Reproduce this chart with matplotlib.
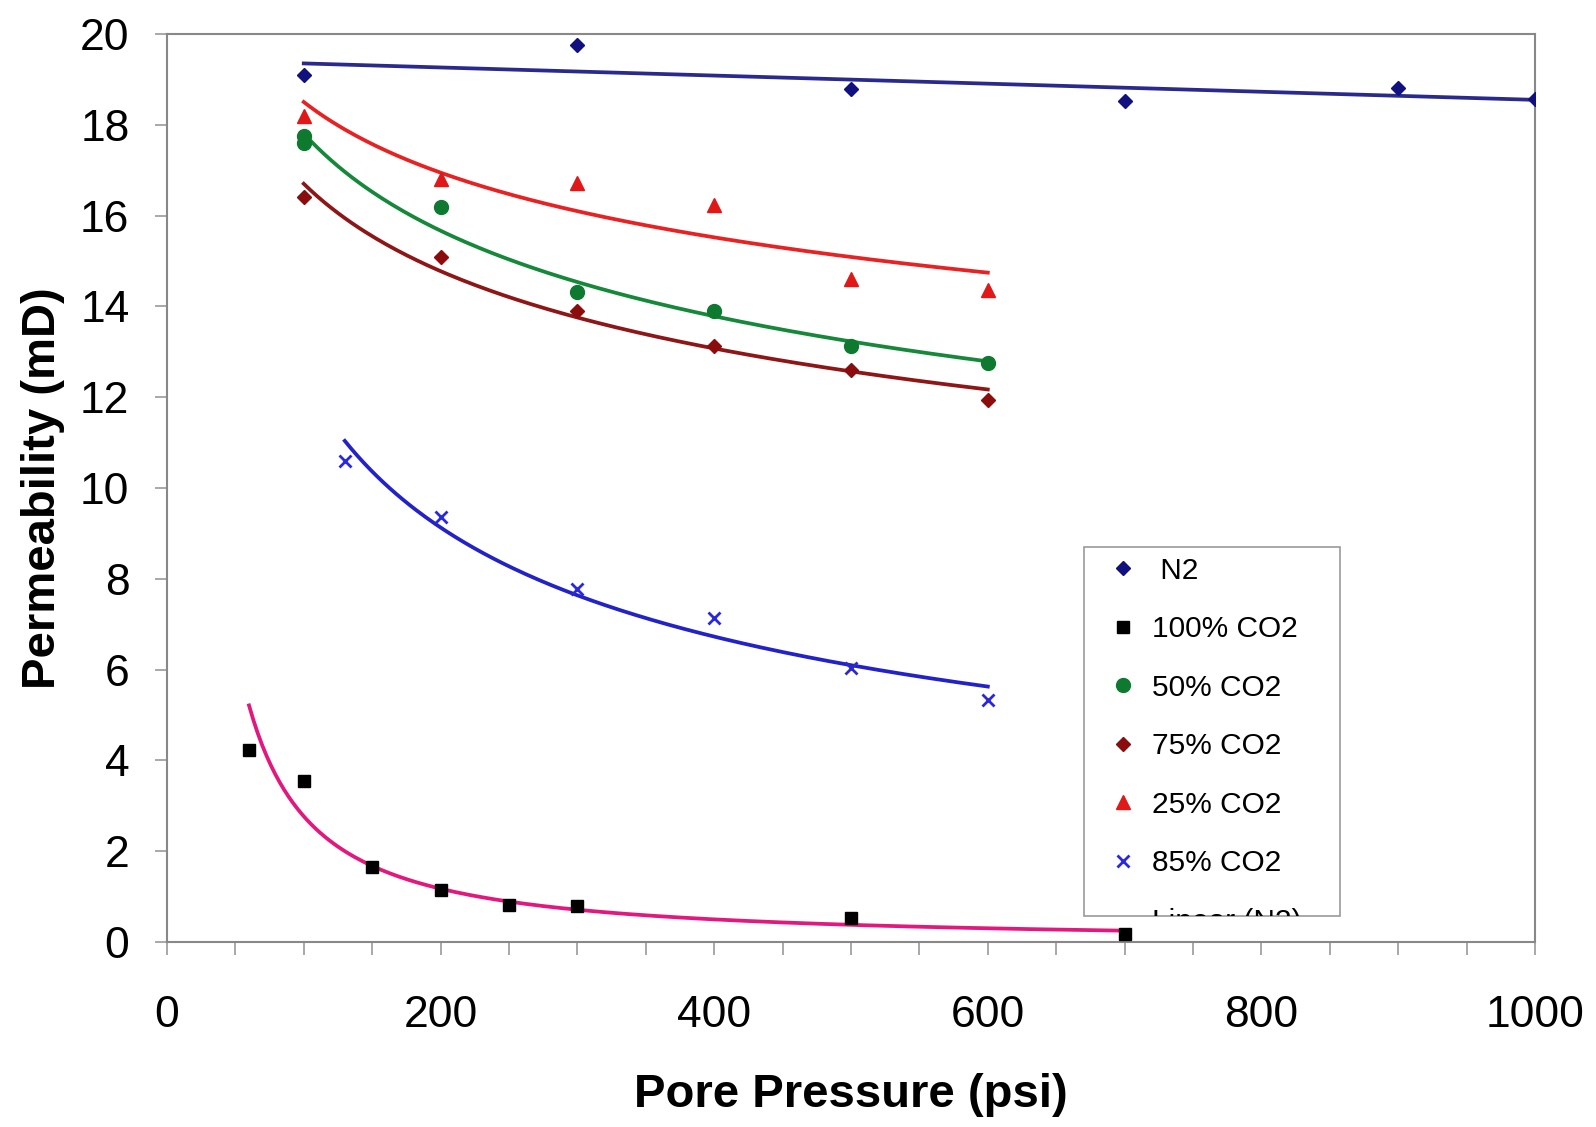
import numpy as np
from matplotlib import pyplot as plt
from matplotlib.patches import Rectangle
from matplotlib.lines import Line2D
from matplotlib.transforms import Bbox, TransformedBbox
from matplotlib.ticker import MultipleLocator

plt.rcParams["font.family"] = ["Liberation Sans", "DejaVu Sans"]

# data (pore pressure psi, permeability mD)
n2_x = [100, 300, 500, 700, 900, 1000]
n2_y = [19.1, 19.75, 18.79, 18.52, 18.81, 18.56]

co2_100_x = [60, 100, 150, 200, 250, 300, 500, 700]
co2_100_y = [4.22, 3.55, 1.64, 1.14, 0.81, 0.79, 0.52, 0.18]

co2_50_x = [100, 100, 200, 300, 400, 500, 600]
co2_50_y = [17.6, 17.75, 16.18, 14.32, 13.9, 13.13, 12.75]

co2_75_x = [100, 200, 300, 400, 500, 600]
co2_75_y = [16.41, 15.08, 13.9, 13.13, 12.59, 11.94]

co2_25_x = [100, 200, 300, 400, 500, 600]
co2_25_y = [18.2, 16.81, 16.72, 16.23, 14.61, 14.37]

co2_85_x = [130, 200, 300, 400, 500, 600]
co2_85_y = [10.6, 9.36, 7.77, 7.14, 6.04, 5.34]


def power_fit(x, y):
    # excel style power trendline y = a * x^b
    x = np.asarray(x, float)
    y = np.asarray(y, float)
    b, lna = np.polyfit(np.log(x), np.log(y), 1)
    xs = np.linspace(x.min(), x.max(), 200)
    return xs, np.exp(lna) * xs ** b


fig = plt.figure(figsize=(15.96, 11.27), dpi=100)
ax = fig.add_axes([0.1046, 0.1642, 0.8572, 0.8056])

LW = 2.7

# trend lines
k, c = np.polyfit(n2_x, n2_y, 1)
xs = np.linspace(min(n2_x), max(n2_x), 2)
ax.plot(xs, k * xs + c, color="#2a2a8e", lw=LW, zorder=2)

fits = [
    (co2_100_x, co2_100_y, "#e2187f"),
    (co2_50_x, co2_50_y, "#15883a"),
    (co2_75_x, co2_75_y, "#8e1616"),
    (co2_25_x, co2_25_y, "#e82222"),
    (co2_85_x, co2_85_y, "#2222c8"),
]
for x, y, col in fits:
    fx, fy = power_fit(x, y)
    ax.plot(fx, fy, color=col, lw=LW, zorder=2)

# points
ax.plot(n2_x, n2_y, ls="none", marker="D", ms=7.5, color="#10107e",
        label=" N2", zorder=3)
ax.plot(co2_100_x, co2_100_y, ls="none", marker="s", ms=9, color="black",
        label="100% CO2", zorder=3)
ax.plot(co2_50_x, co2_50_y, ls="none", marker="o", ms=10, color="#0e7a30",
        label="50% CO2", zorder=3)
ax.plot(co2_75_x, co2_75_y, ls="none", marker="D", ms=7, color="#8a0c0c",
        label="75% CO2", zorder=3)
ax.plot(co2_25_x, co2_25_y, ls="none", marker="^", ms=10, color="#e01818",
        label="25% CO2", zorder=3)
ax.plot(co2_85_x, co2_85_y, ls="none", marker="x", ms=8, mew=2,
        color="#2a2ad0", label="85% CO2", zorder=3)

ax.set_xlim(0, 1000)
ax.set_ylim(0, 20)
ax.xaxis.set_major_locator(MultipleLocator(200))
ax.xaxis.set_minor_locator(MultipleLocator(50))
ax.yaxis.set_major_locator(MultipleLocator(2))

for s in ax.spines.values():
    s.set_color("#888888")
    s.set_linewidth(1.5)
ax.tick_params(axis="both", which="both", direction="out", length=9,
               width=1.2, color="#999999", labelsize=32)
ax.tick_params(axis="x", which="major", pad=29)
ax.tick_params(axis="y", which="major", pad=18)

ax.set_xlabel("Pore Pressure (psi)", fontsize=34, fontweight="bold", labelpad=27)
ax.set_ylabel("Permeability (mD)", fontsize=34, fontweight="bold", labelpad=11)

# legend box (too short in the original, last entry is cut off)
handles, labels = ax.get_legend_handles_labels()
handles.append(Line2D([], [], color="#2a2a8e", lw=LW))
labels.append("Linear (N2)")
leg = fig.legend(handles, labels, loc="upper left",
                 bbox_to_anchor=(1095 / 1596, 1 - 542 / 1127),
                 frameon=False, fontsize=21.5, labelspacing=1.02,
                 handlelength=0.9, handletextpad=0.5, borderpad=0.0)
box = Bbox([[1084 / 1596, 1 - 916 / 1127], [1340 / 1596, 1 - 547 / 1127]])
clip = TransformedBbox(box, fig.transFigure)
for a in leg.findobj():
    a.set_clip_box(clip)
    a.set_clip_on(True)
fig.patches.append(Rectangle((box.x0, box.y0), box.width, box.height,
                             transform=fig.transFigure, fill=True,
                             facecolor="white", edgecolor="#999999", lw=1.2,
                             zorder=0.5))

fig.savefig("out.png", dpi=100)
